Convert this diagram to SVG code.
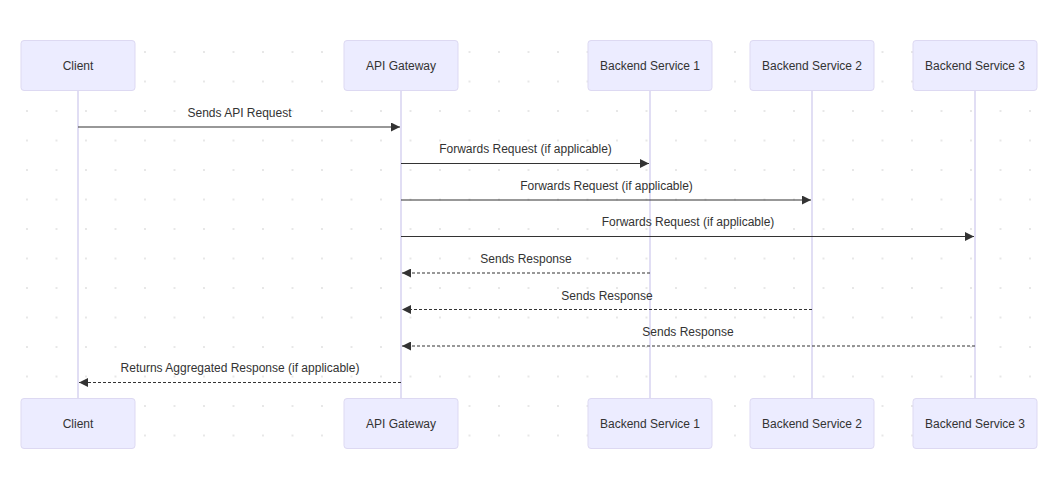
<svg xmlns="http://www.w3.org/2000/svg" width="1052" height="494" viewBox="0 0 1052 494">
<style>
.bg{fill:#ffffff}
.actor rect{fill:#ececff;stroke:#ddd9f2;stroke-width:1}
.actor text{font-family:"Liberation Sans",Arial,sans-serif;font-size:12px;fill:#333;text-anchor:middle;dominant-baseline:central}
.life{stroke:#d7d3f0;stroke-width:1.5}
.msg{stroke:#333;stroke-width:1.2;fill:none}
.dash{stroke-dasharray:3,2}
.lbl{font-family:"Liberation Sans",Arial,sans-serif;font-size:12px;fill:#333;text-anchor:middle}
</style>
<defs>
<pattern id="dots" x="27" y="22.5" width="29.5" height="29.5" patternUnits="userSpaceOnUse">
<circle cx="0" cy="0" r="1.1" fill="#e2e2e2"/>
<circle cx="29.5" cy="0" r="1.1" fill="#e2e2e2"/>
<circle cx="0" cy="29.5" r="1.1" fill="#e2e2e2"/>
<circle cx="29.5" cy="29.5" r="1.1" fill="#e2e2e2"/>
</pattern>
<marker id="ah" viewBox="0 0 10 10" refX="10" refY="5" markerWidth="9" markerHeight="9" markerUnits="userSpaceOnUse" orient="auto">
<path d="M0,0 L10,5 L0,10 z" fill="#333"/>
</marker>
</defs>
<rect class="bg" x="0" y="0" width="1052" height="494"/>
<rect x="15" y="45" width="1030" height="400" fill="url(#dots)"/>

<g id="lifelines">
<line class="life" x1="78" y1="91" x2="78" y2="398"/>
<line class="life" x1="401" y1="91" x2="401" y2="398"/>
<line class="life" x1="650" y1="91" x2="650" y2="398"/>
<line class="life" x1="812" y1="91" x2="812" y2="398"/>
<line class="life" x1="975" y1="91" x2="975" y2="398"/>
</g>

<g id="node-client-top" class="actor"><rect x="21" y="40.5" width="114" height="50" rx="3"/><text x="78" y="66">Client</text></g>
<g id="node-gateway-top" class="actor"><rect x="344" y="40.5" width="114" height="50" rx="3"/><text x="401" y="66">API Gateway</text></g>
<g id="node-b1-top" class="actor"><rect x="588" y="40.5" width="124" height="50" rx="3"/><text x="650" y="66">Backend Service 1</text></g>
<g id="node-b2-top" class="actor"><rect x="750" y="40.5" width="124" height="50" rx="3"/><text x="812" y="66">Backend Service 2</text></g>
<g id="node-b3-top" class="actor"><rect x="913" y="40.5" width="124" height="50" rx="3"/><text x="975" y="66">Backend Service 3</text></g>

<g id="node-client-bottom" class="actor"><rect x="21" y="398.5" width="114" height="50" rx="3"/><text x="78" y="424">Client</text></g>
<g id="node-gateway-bottom" class="actor"><rect x="344" y="398.5" width="114" height="50" rx="3"/><text x="401" y="424">API Gateway</text></g>
<g id="node-b1-bottom" class="actor"><rect x="588" y="398.5" width="124" height="50" rx="3"/><text x="650" y="424">Backend Service 1</text></g>
<g id="node-b2-bottom" class="actor"><rect x="750" y="398.5" width="124" height="50" rx="3"/><text x="812" y="424">Backend Service 2</text></g>
<g id="node-b3-bottom" class="actor"><rect x="913" y="398.5" width="124" height="50" rx="3"/><text x="975" y="424">Backend Service 3</text></g>

<g id="connectors">
<line class="msg" x1="78" y1="127" x2="400" y2="127" marker-end="url(#ah)"/>
<text class="lbl" x="239.5" y="117">Sends API Request</text>
<line class="msg" x1="401" y1="163.5" x2="649" y2="163.5" marker-end="url(#ah)"/>
<text class="lbl" x="525.5" y="153">Forwards Request (if applicable)</text>
<line class="msg" x1="401" y1="200" x2="811" y2="200" marker-end="url(#ah)"/>
<text class="lbl" x="606.5" y="190">Forwards Request (if applicable)</text>
<line class="msg" x1="401" y1="236.5" x2="974" y2="236.5" marker-end="url(#ah)"/>
<text class="lbl" x="688" y="226">Forwards Request (if applicable)</text>
<line class="msg dash" x1="650" y1="273" x2="402" y2="273" marker-end="url(#ah)"/>
<text class="lbl" x="526" y="263">Sends Response</text>
<line class="msg dash" x1="812" y1="309.5" x2="402" y2="309.5" marker-end="url(#ah)"/>
<text class="lbl" x="607" y="300">Sends Response</text>
<line class="msg dash" x1="975" y1="346" x2="402" y2="346" marker-end="url(#ah)"/>
<text class="lbl" x="688" y="336">Sends Response</text>
<line class="msg dash" x1="401" y1="382.5" x2="79" y2="382.5" marker-end="url(#ah)"/>
<text class="lbl" x="240" y="372">Returns Aggregated Response (if applicable)</text>
</g>
</svg>
